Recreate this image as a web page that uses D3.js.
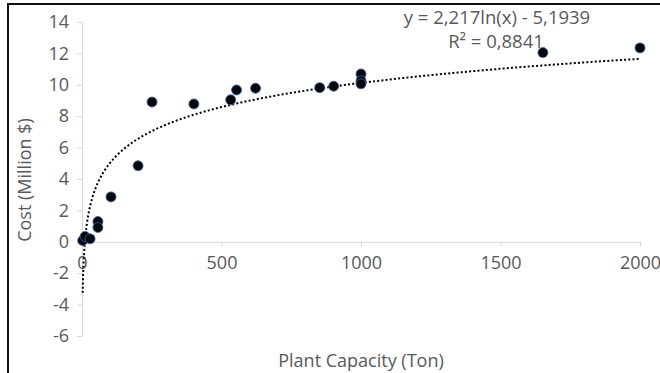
<!DOCTYPE html>
<html>
<head>
<meta charset="utf-8">
<script src="https://cdn.jsdelivr.net/npm/d3@7"></script>
<style>
  body { margin: 0; background: #fff; }
  svg text { font-family: "Open Sans", "Liberation Sans", sans-serif; fill: #595959; }
</style>
</head>
<body>
<svg id="chart" width="660" height="373"></svg>
<script>
// plant capacity (ton) vs cost (million $)
const capacity = [2.4, 11, 29, 57, 57, 104, 201, 251, 401, 533, 554, 622, 852, 902, 1000, 1000, 1000, 1652, 2000];
const cost = [0.08, 0.34, 0.19, 1.29, 0.91, 2.86, 4.84, 8.9, 8.78, 9.04, 9.67, 9.78, 9.82, 9.91, 10.69, 10.25, 10.06, 12.05, 12.35];
const xTicks = [0, 500, 1000, 1500, 2000];
const yTicks = [-6, -4, -2, 0, 2, 4, 6, 8, 10, 12, 14];
// log trendline y = a ln(x) + b
const trendA = 2.217;
const trendB = -5.1939;
const eqLabel = "y = 2,217ln(x) - 5,1939";
const r2Label = "R² = 0,8841";

const svg = d3.select('#chart');

// frame (only top and left edges show in the picture)
svg.append('rect')
  .attr('x', 8).attr('y', 4)
  .attr('width', 700).attr('height', 400)
  .attr('fill', 'none')
  .attr('stroke', '#111')
  .attr('stroke-width', 2);

const x = d3.scaleLinear().domain([0, 2000]).range([82, 640]);
const y = d3.scaleLinear().domain([-6, 14]).range([336, 22]);

const grey = '#d9d9d9';
const fmt = d => String(d); // plain hyphen minus, no thousands comma

// y axis
const yAxis = svg.append('g')
  .attr('transform', `translate(${x(0)},0)`)
  .call(d3.axisLeft(y).tickValues(yTicks).tickFormat(fmt).tickSize(5).tickPadding(8));
yAxis.select('.domain').attr('stroke', grey);
yAxis.selectAll('.tick line').attr('stroke', grey);
yAxis.selectAll('.tick text')
  .style('font-size', '18px')
  .attr('fill', '#595959');

// x axis sits on y = 0
const xAxis = svg.append('g')
  .attr('transform', `translate(0,${y(0)})`)
  .call(d3.axisBottom(x).tickValues(xTicks).tickFormat(fmt).tickSize(5).tickPadding(9));
xAxis.select('.domain').attr('stroke', grey);
xAxis.selectAll('.tick line').attr('stroke', grey);
xAxis.selectAll('.tick text')
  .style('font-size', '18px')
  .attr('fill', '#595959');

// trendline
const xs = d3.range(0, 401).map(i => d3.min(capacity) + (d3.max(capacity) - d3.min(capacity)) * Math.pow(i / 400, 2));
const line = d3.line()
  .x(d => x(d))
  .y(d => y(trendA * Math.log(d) + trendB));
svg.append('path')
  .datum(xs)
  .attr('d', line)
  .attr('fill', 'none')
  .attr('stroke', '#000')
  .attr('stroke-width', 2)
  .attr('stroke-dasharray', '2,2.2');

// points
svg.append('g')
  .selectAll('circle')
  .data(capacity)
  .join('circle')
  .attr('cx', d => x(d))
  .attr('cy', (d, i) => y(cost[i]))
  .attr('r', 5)
  .attr('fill', '#05070f')
  .attr('stroke', '#3d5f9e')
  .attr('stroke-width', 0.8);

// equation
svg.append('text')
  .attr('x', 497).attr('y', 24)
  .attr('text-anchor', 'middle')
  .style('font-size', '18.5px')
  .text(eqLabel);
svg.append('text')
  .attr('x', 496).attr('y', 48)
  .attr('text-anchor', 'middle')
  .style('font-size', '18.5px')
  .text(r2Label);

// axis titles
svg.append('text')
  .attr('transform', 'translate(31,180) rotate(-90)')
  .attr('text-anchor', 'middle')
  .style('font-size', '18px')
  .text('Cost (Million $)');
svg.append('text')
  .attr('x', 361).attr('y', 367)
  .attr('text-anchor', 'middle')
  .style('font-size', '18px')
  .text('Plant Capacity (Ton)');
</script>
</body>
</html>
